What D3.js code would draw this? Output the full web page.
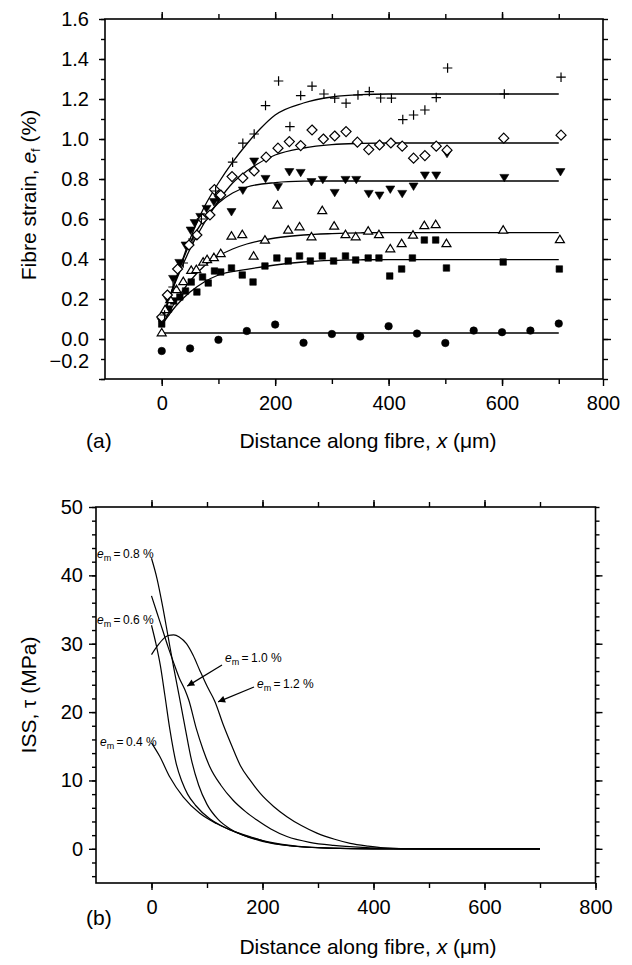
<!DOCTYPE html>
<html><head><meta charset="utf-8">
<script src="https://cdn.jsdelivr.net/npm/d3@7"></script>
<style>body{margin:0;background:#fff} text{font-family:"Liberation Sans",Arial,Helvetica,sans-serif;fill:#000}</style>
</head><body><svg id="c" width="632" height="965" xmlns="http://www.w3.org/2000/svg"></svg>
<script>
// ---------------- Panel (a): fibre strain data (x in µm, strain in %) ----------------
const strainCircle = [[0,-0.06],[50,-0.047],[100,-0.004],[150,0.04],[200,0.072],[250,-0.019],[300,0.025],[350,0.012],[400,0.064],[450,0.027],[500,-0.02],[550,0.042],[600,0.034],[650,0.042],[700,0.077]];
const strainSquare = [[0,0.075],[12,0.15],[21,0.19],[32,0.21],[42,0.24],[52,0.285],[62,0.235],[72,0.31],[82,0.28],[93,0.34],[104,0.335],[123,0.355],[142,0.32],[161,0.285],[182,0.365],[203,0.405],[223,0.39],[243,0.415],[262,0.39],[283,0.415],[303,0.39],[324,0.415],[342,0.395],[364,0.405],[383,0.405],[402,0.315],[423,0.35],[442,0.405],[463,0.495],[483,0.495],[502,0.355],[602,0.385],[701,0.35]];
const strainTriUp = [[0,0.034],[6,0.15],[15,0.2],[26,0.25],[38,0.29],[52,0.346],[61,0.35],[73,0.387],[80,0.4],[92,0.41],[104,0.43],[123,0.517],[142,0.525],[162,0.417],[182,0.497],[204,0.672],[223,0.547],[243,0.564],[264,0.514],[283,0.645],[304,0.567],[324,0.525],[342,0.514],[364,0.542],[383,0.525],[403,0.454],[423,0.48],[443,0.522],[463,0.57],[483,0.575],[502,0.48],[602,0.547],[702,0.5]];
const strainTriDown = [[0,0.085],[10,0.2],[20,0.3],[31,0.38],[42,0.467],[51,0.542],[58,0.579],[68,0.61],[79,0.65],[92,0.684],[100,0.7],[123,0.634],[143,0.742],[163,0.887],[183,0.8],[205,0.759],[225,0.834],[245,0.83],[264,0.784],[284,0.795],[305,0.73],[324,0.795],[343,0.795],[365,0.725],[384,0.717],[403,0.747],[424,0.725],[444,0.762],[464,0.817],[484,0.817],[503,0.925],[604,0.805],[703,0.834]];
const strainDiamond = [[0,0.11],[10,0.22],[28,0.35],[48,0.47],[62,0.52],[72,0.6],[85,0.62],[93,0.747],[104,0.72],[124,0.812],[143,0.805],[163,0.84],[184,0.909],[205,0.954],[225,0.987],[245,0.967],[265,1.045],[285,1.0],[305,1.015],[325,1.037],[345,0.984],[365,0.947],[384,0.97],[404,0.98],[424,0.964],[444,0.904],[464,0.917],[484,0.964],[503,0.944],[603,1.004],[704,1.019]];
const strainPlus = [[5,0.12],[20,0.26],[38,0.38],[55,0.5],[70,0.6],[95,0.74],[125,0.884],[143,0.979],[163,1.025],[183,1.167],[206,1.29],[226,1.062],[245,1.217],[265,1.264],[286,1.225],[305,1.204],[325,1.179],[346,1.22],[366,1.237],[386,1.205],[405,1.204],[425,1.097],[444,1.12],[464,1.145],[484,1.207],[504,1.355],[604,1.225],[704,1.309]];

// fitted strain curves
const fitCircle = [[0,0.03],[700,0.03]];
const fitSquare = [[0,0.07],[25,0.165],[50,0.235],[75,0.285],[100,0.32],[150,0.348],[200,0.37],[250,0.385],[300,0.393],[350,0.396],[400,0.397],[700,0.397]];
const fitTriUp = [[0,0.07],[25,0.19],[50,0.29],[75,0.365],[100,0.415],[125,0.45],[150,0.475],[200,0.505],[250,0.52],[300,0.527],[350,0.531],[400,0.532],[700,0.532]];
const fitTriDown = [[0,0.08],[25,0.3],[50,0.48],[75,0.6],[100,0.68],[125,0.73],[150,0.76],[200,0.782],[250,0.789],[300,0.79],[700,0.79]];
const fitDiamond = [[0,0.1],[25,0.29],[50,0.45],[75,0.58],[100,0.69],[125,0.78],[150,0.84],[200,0.92],[250,0.955],[300,0.972],[350,0.978],[400,0.98],[700,0.98]];
const fitPlus = [[0,0.1],[25,0.3],[50,0.5],[75,0.66],[100,0.78],[125,0.884],[150,0.975],[175,1.055],[200,1.12],[250,1.18],[300,1.21],[350,1.222],[400,1.225],[700,1.225]];

const yTicksA = [-0.2,0,0.2,0.4,0.6,0.8,1.0,1.2,1.4,1.6];
const yTickLabelsA = ["\u22120.2","0.0","0.2","0.4","0.6","0.8","1.0","1.2","1.4","1.6"];
const xTicksA = [0,200,400,600,778];
const xTickLabelsA = ["0","200","400","600","800"];

// ---------------- Panel (b): ISS curves (x in µm, tau in MPa) ----------------
const tau04 = [[0,15.5],[15,13.5],[33,10.5],[57,7.6],[87,5.2],[117,3.7],[142,2.75],[177,1.8],[208,1.0],[268,0.3],[350,0.05],[450,0],[700,0]];
const tau06 = [[0,32.7],[8,30],[16,26.8],[24,22.5],[33,17.5],[45,12.3],[55,9.8],[65,8],[80,6.3],[105,4.4],[125,3.4],[142,2.75],[165,2],[200,1.2],[250,0.5],[320,0.1],[400,0],[700,0]];
const tau08 = [[0,42.5],[10,39.5],[20,35.5],[30,31],[40,26.5],[50,22.3],[60,18],[72,13],[85,9.3],[100,6.5],[120,4.3],[142,2.9],[165,2],[200,1.1],[250,0.45],[320,0.1],[400,0],[700,0]];
const tau10 = [[0,37],[10,34.5],[20,32],[30,29.5],[40,27.2],[50,25],[60,23.3],[67,21.8],[81,17.5],[93,14.5],[105,12],[125,9.3],[147,7.1],[170,5.4],[190,4.2],[215,2.9],[244,1.8],[285,0.95],[328,0.5],[380,0.2],[450,0.03],[500,0],[700,0]];
const tau12 = [[0,28.4],[10,29.6],[20,30.6],[30,31.2],[40,31.3],[50,31],[63,30],[75,28.3],[87,26.1],[100,23.8],[114,21.6],[130,18],[145,15],[160,12.2],[178,10],[196,8.1],[220,6.2],[244,4.7],[270,3.4],[298,2.3],[330,1.4],[358,0.8],[390,0.4],[418,0.15],[460,0.03],[500,0],[700,0]];
const yTicksB = [0,10,20,30,40,50];
const xTicksB = [0,200,400,600,800];

// ---------------- drawing ----------------
const FONT = "'Liberation Sans', Arial, Helvetica, sans-serif";
const TICKFONT = 20, TITLEFONT = 21;
const svg = d3.select("#c");

function frame(x, y){
  svg.append("rect").attr("x", x.range()[0]).attr("y", y.range()[1])
    .attr("width", x.range()[1]-x.range()[0]).attr("height", y.range()[0]-y.range()[1])
    .attr("fill","none").attr("stroke","#000").attr("stroke-width",1.6);
}
function axisTicks(gen, tr, values, size, labels, pad){
  const a = svg.append("g").attr("transform", tr)
    .call(gen.tickValues(values).tickSize(size).tickSizeOuter(0).tickPadding(pad||3)
      .tickFormat(labels ? (d,i)=>labels[i] : ""));
  a.select(".domain").remove();
  a.selectAll("line").attr("stroke","#000").attr("stroke-width",1.4);
  a.selectAll("text").attr("font-family",FONT).attr("font-size",TICKFONT).attr("fill","#000");
  return a;
}

// ===== panel a =====
const xA = d3.scaleLinear().domain([-100, 778]).range([105, 603]);
const yA = d3.scaleLinear().domain([-0.2, 1.6]).range([379, 19]);
frame(xA, yA);
const minorYA = d3.range(-2, 17).map(v => v/10);
const hundredsA = d3.range(0, 8).map(v => v*100);
axisTicks(d3.axisLeft(yA), `translate(${xA.range()[0]},0)`, minorYA, 4);
const leftA = axisTicks(d3.axisLeft(yA), `translate(${xA.range()[0]},0)`, yTicksA, 6, yTickLabelsA, 10);
// the original figure prints its lowest label a little above the bottom tick
leftA.selectAll(".tick").filter(d => d === -0.2).select("text").attr("y", -18);
axisTicks(d3.axisRight(yA), `translate(${xA.range()[1]},0)`, minorYA, 5);
axisTicks(d3.axisRight(yA), `translate(${xA.range()[1]},0)`, yTicksA.slice(1,-1), 8);
axisTicks(d3.axisBottom(xA), `translate(0,${yA.range()[0]})`, hundredsA, 5);
axisTicks(d3.axisBottom(xA), `translate(0,${yA.range()[0]})`, xTicksA, 7, xTickLabelsA, 10);
axisTicks(d3.axisTop(xA), `translate(0,${yA.range()[1]})`, hundredsA, 5);
axisTicks(d3.axisTop(xA), `translate(0,${yA.range()[1]})`, [0,200,400,600], 7);

const lineA = d3.line().x(d=>xA(d[0])).y(d=>yA(d[1])).curve(d3.curveMonotoneX);
[fitCircle, fitSquare, fitTriUp, fitTriDown, fitDiamond, fitPlus].forEach(f=>{
  svg.append("path").attr("d", lineA(f)).attr("fill","none").attr("stroke","#000").attr("stroke-width",1.3);
});

const plusSym = {draw(c, s){ const r=Math.sqrt(s)/2; c.moveTo(-r,0); c.lineTo(r,0); c.moveTo(0,-r); c.lineTo(0,r);} };
const diamondSym = {draw(c, s){ const r=Math.sqrt(s)/2; c.moveTo(0,-r); c.lineTo(r,0); c.lineTo(0,r); c.lineTo(-r,0); c.closePath();} };
const triDownSym = {draw(c, s){ const r=Math.sqrt(s)/2; c.moveTo(-r,-r*0.8); c.lineTo(r,-r*0.8); c.lineTo(0,r*0.85); c.closePath();} };
const triUpSym = {draw(c, s){ const r=Math.sqrt(s)/2; c.moveTo(-r,r*0.8); c.lineTo(r,r*0.8); c.lineTo(0,-r*0.85); c.closePath();} };
const squareSym = {draw(c, s){ const r=Math.sqrt(s)/2; c.rect(-r,-r,2*r,2*r);} };
const circleSym = {draw(c, s){ const r=Math.sqrt(s)/2; c.moveTo(r,0); c.arc(0,0,r,0,2*Math.PI);} };

function markers(data, type, size, filled){
  svg.append("g").selectAll("path").data(data).join("path")
    .attr("transform", d=>`translate(${xA(d[0])},${yA(d[1])})`)
    .attr("d", d3.symbol().type(type).size(size))
    .attr("fill", filled ? "#000" : "#fff")
    .attr("stroke", "#000").attr("stroke-width", filled ? 0.6 : 1.2);
}
markers(strainCircle, circleSym, 7.5*7.5, true);
markers(strainSquare, squareSym, 6.5*6.5, true);
markers(strainTriUp, triUpSym, 9*9, false);
markers(strainTriDown, triDownSym, 9*9, true);
markers(strainDiamond, diamondSym, 10*10, false);
markers(strainPlus, plusSym, 9.5*9.5, false);

// titles panel a
const tA = svg.append("text").attr("x", 368).attr("y", 448).attr("text-anchor","middle").attr("font-size",TITLEFONT);
tA.append("tspan").text("Distance along fibre, ");
tA.append("tspan").attr("font-style","italic").text("x");
tA.append("tspan").text(" (\u03bcm)");
svg.append("text").attr("x", 86).attr("y", 448).attr("font-size",TITLEFONT).text("(a)");
const yTA = svg.append("text").attr("transform", `translate(36,${(yA.range()[0]+yA.range()[1])/2 - 4}) rotate(-90)`).attr("text-anchor","middle").attr("font-size",TITLEFONT);
yTA.append("tspan").text("Fibre strain, ");
yTA.append("tspan").attr("font-style","italic").text("e");
yTA.append("tspan").attr("font-size",13).attr("dy",4).text("f");
yTA.append("tspan").attr("dy",-4).text(" (%)");

// ===== panel b =====
const xB = d3.scaleLinear().domain([-100, 800]).range([96, 595.5]);
const yB = d3.scaleLinear().domain([-5, 50]).range([883, 507]);
frame(xB, yB);
const minorYB = d3.range(-4, 51, 2);
const hundredsB = d3.range(0, 9).map(v=>v*100);
axisTicks(d3.axisLeft(yB), `translate(${xB.range()[0]},0)`, minorYB, 4);
axisTicks(d3.axisLeft(yB), `translate(${xB.range()[0]},0)`, yTicksB, 7, yTicksB.map(String), 6);
axisTicks(d3.axisRight(yB), `translate(${xB.range()[1]},0)`, minorYB, 4);
axisTicks(d3.axisRight(yB), `translate(${xB.range()[1]},0)`, yTicksB.slice(0,-1), 7);
axisTicks(d3.axisBottom(xB), `translate(0,${yB.range()[0]})`, hundredsB, 5);
axisTicks(d3.axisBottom(xB), `translate(0,${yB.range()[0]})`, xTicksB, 7, xTicksB.map(String), 10);
axisTicks(d3.axisTop(xB), `translate(0,${yB.range()[1]})`, hundredsB.slice(0,-1), 5);
axisTicks(d3.axisTop(xB), `translate(0,${yB.range()[1]})`, [0,200,400,600], 7);

const lineB = d3.line().x(d=>xB(d[0])).y(d=>yB(d[1])).curve(d3.curveMonotoneX);
[tau04, tau06, tau08, tau10, tau12].forEach(f=>{
  svg.append("path").attr("d", lineB(f)).attr("fill","none").attr("stroke","#000").attr("stroke-width",1.2);
});

function emLabel(x, y, val){
  const t = svg.append("text").attr("x", x).attr("y", y).attr("font-size", 12);
  t.append("tspan").attr("font-style","italic").text("e");
  t.append("tspan").attr("font-size", 9).attr("dy", 3).text("m");
  t.append("tspan").attr("dy", -3).text("\u2009=\u2009" + val + " %");
}
emLabel(97, 558, "0.8");
emLabel(97, 624, "0.6");
emLabel(100, 746, "0.4");
emLabel(225, 662, "1.0");
emLabel(257, 688, "1.2");

const defs = svg.append("defs");
defs.append("marker").attr("id","ah").attr("viewBox","0 0 10 10").attr("refX",10).attr("refY",5)
  .attr("markerWidth",9).attr("markerHeight",7).attr("markerUnits","userSpaceOnUse").attr("orient","auto")
  .append("path").attr("d","M0,0 L10,5 L0,10 z").attr("fill","#000");
function arrow(x1,y1,tipX,tipTau){
  svg.append("line").attr("x1",x1).attr("y1",y1).attr("x2",xB(tipX)).attr("y2",yB(tipTau))
    .attr("stroke","#000").attr("stroke-width",1.2).attr("marker-end","url(#ah)");
}
arrow(222, 665, 64.5, 23.8);
arrow(254, 687, 120, 21.5);

const tB = svg.append("text").attr("x", 368).attr("y", 954).attr("text-anchor","middle").attr("font-size",TITLEFONT);
tB.append("tspan").text("Distance along fibre, ");
tB.append("tspan").attr("font-style","italic").text("x");
tB.append("tspan").text(" (\u03bcm)");
svg.append("text").attr("x", 86).attr("y", 925).attr("font-size",TITLEFONT).text("(b)");
const yTB = svg.append("text").attr("transform", `translate(36,${(yB.range()[0]+yB.range()[1])/2}) rotate(-90)`).attr("text-anchor","middle").attr("font-size",TITLEFONT);
yTB.append("tspan").text("ISS, \u03c4 (MPa)");
</script></body></html>
